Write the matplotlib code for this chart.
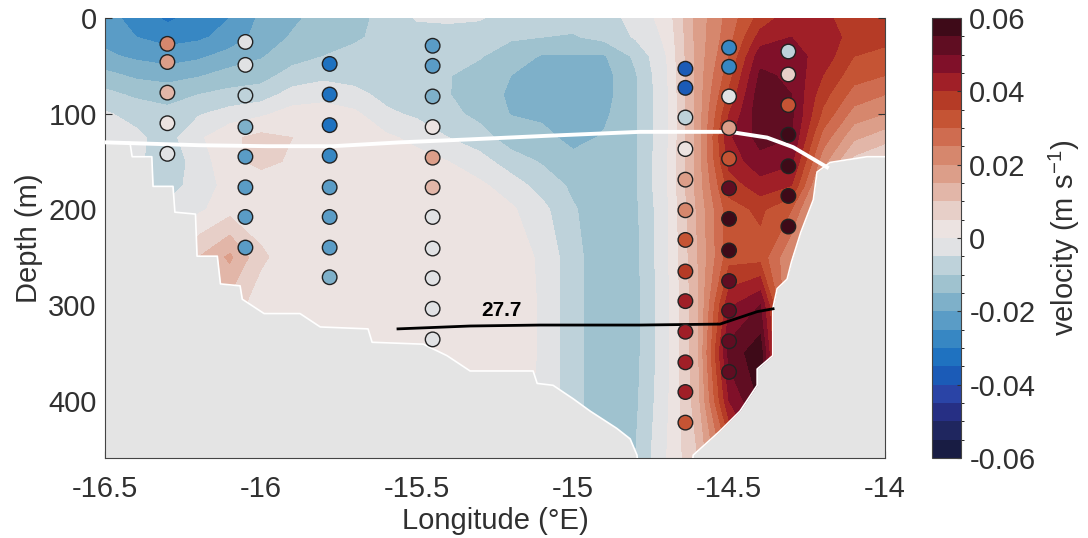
import numpy as np
import matplotlib
matplotlib.use("Agg")
import matplotlib.pyplot as plt
from matplotlib.colors import ListedColormap, BoundaryNorm

plt.rcParams["font.family"] = ["Liberation Sans", "DejaVu Sans"]
plt.rcParams["mathtext.default"] = "regular"
plt.rcParams["axes.unicode_minus"] = False

# gridded section (rows = depth, columns = longitude), m/s
lon = [-16.5, -16.4, -16.3, -16.2, -16.1, -16.0, -15.9, -15.8, -15.7, -15.6, -15.5, -15.4, -15.3,
       -15.2, -15.1, -15.0, -14.9, -14.8, -14.7, -14.6, -14.5, -14.4, -14.3, -14.2, -14.1, -14.0]
depth = [0, 20, 40, 60, 80, 100, 125, 150, 175, 200, 250, 300, 350, 400, 460]
vel = [
    [-0.023, -0.027, -0.031, -0.028, -0.025, -0.019, -0.016, -0.013, -0.011, -0.009, -0.0045, -0.004, -0.0045,
     -0.0075, -0.008, -0.008, -0.0075, -0.003, 0.002, 0.017, 0.027, 0.037, 0.043, 0.041, 0.038, 0.037],
    [-0.0215, -0.025, -0.027, -0.026, -0.023, -0.018, -0.0145, -0.012, -0.0105, -0.009, -0.0075, -0.0075, -0.008,
     -0.0095, -0.01, -0.0105, -0.0085, -0.0045, 0.001, 0.017, 0.028, 0.042, 0.045, 0.043, 0.038, 0.037],
    [-0.019, -0.021, -0.0225, -0.021, -0.018, -0.0155, -0.012, -0.01, -0.009, -0.0085, -0.0085, -0.0088, -0.0097,
     -0.012, -0.0155, -0.0155, -0.0155, -0.009, 0.0, 0.017, 0.03, 0.048, 0.047, 0.043, 0.035, 0.033],
    [-0.0135, -0.016, -0.017, -0.0155, -0.013, -0.012, -0.008, -0.0065, -0.007, -0.0075, -0.0088, -0.0098, -0.0115,
     -0.015, -0.017, -0.018, -0.017, -0.0105, -0.0005, 0.017, 0.033, 0.051, 0.049, 0.04, 0.032, 0.03],
    [-0.0085, -0.011, -0.012, -0.01, -0.0085, -0.0075, -0.003, -0.0015, -0.0035, -0.0065, -0.008, -0.0098, -0.0125,
     -0.0158, -0.0175, -0.0185, -0.017, -0.0105, -0.001, 0.017, 0.036, 0.053, 0.05, 0.037, 0.028, 0.025],
    [-0.0045, -0.0065, -0.0085, -0.0055, -0.003, -0.001, 0.002, 0.002, 0.001, -0.004, -0.006, -0.0085, -0.0115,
     -0.0152, -0.016, -0.018, -0.016, -0.0105, -0.001, 0.017, 0.04, 0.0535, 0.051, 0.034, 0.023, 0.02],
    [-0.003, -0.004, -0.007, -0.001, 0.004, 0.0065, 0.005, 0.002, 0.002, 0.001, -0.0015, -0.005, -0.0078,
     -0.0125, -0.0135, -0.0165, -0.0145, -0.0105, -0.001, 0.017, 0.044, 0.052, 0.05, 0.028, 0.016, 0.012],
    [-0.002, -0.004, -0.008, -0.003, 0.004, 0.006, 0.0045, 0.002, 0.002, 0.002, 0.002, 0.0, -0.003,
     -0.0075, -0.0105, -0.0135, -0.0135, -0.0105, -0.0005, 0.017, 0.042, 0.048, 0.046, 0.022, 0.008, 0.004],
    [-0.002, -0.004, -0.007, -0.003, 0.002, 0.003, 0.002, 0.002, 0.002, 0.002, 0.002, 0.002, 0.001,
     -0.0025, -0.007, -0.011, -0.013, -0.0105, -0.0005, 0.017, 0.037, 0.043, 0.04, 0.016, 0.006, 0.003],
    [-0.002, -0.003, -0.004, -0.001, 0.003, 0.002, 0.002, 0.002, 0.002, 0.002, 0.002, 0.002, 0.002,
     0.0008, -0.0035, -0.0095, -0.013, -0.011, -0.001, 0.016, 0.033, 0.036, 0.03, 0.012, 0.006, 0.003],
    [-0.002, -0.002, -0.002, 0.01, 0.016, 0.006, 0.002, 0.002, 0.002, 0.002, 0.002, 0.002, 0.002,
     0.0015, -0.0005, -0.0085, -0.013, -0.0115, -0.001, 0.015, 0.033, 0.033, 0.02, 0.01, 0.006, 0.003],
    [-0.002, -0.002, -0.002, 0.006, 0.008, 0.002, 0.002, 0.002, 0.002, 0.002, 0.002, 0.002, 0.002,
     0.0015, -0.0003, -0.0085, -0.013, -0.0115, -0.0015, 0.014, 0.044, 0.05, 0.015, 0.01, 0.006, 0.003],
    [-0.002, -0.002, -0.002, 0.003, 0.003, 0.002, 0.002, 0.002, 0.002, 0.003, 0.002, 0.002, 0.002,
     0.0015, -0.0003, -0.0085, -0.013, -0.0115, -0.0015, 0.014, 0.052, 0.058, 0.012, 0.01, 0.006, 0.003],
    [-0.002, -0.002, -0.002, 0.002, 0.002, 0.002, 0.002, 0.002, 0.002, 0.002, 0.002, 0.002, 0.002,
     0.0012, -0.0005, -0.0085, -0.013, -0.011, -0.001, 0.013, 0.045, 0.056, 0.01, 0.01, 0.006, 0.003],
    [-0.002, -0.002, -0.002, 0.002, 0.002, 0.002, 0.002, 0.002, 0.002, 0.002, 0.002, 0.002, 0.002,
     0.001, -0.001, -0.008, -0.012, -0.01, 0.0, 0.01, 0.03, 0.045, 0.01, 0.01, 0.006, 0.003],
]

# seafloor
bathy_lon = [-16.5, -16.42, -16.413, -16.35, -16.346, -16.282, -16.276, -16.21, -16.205, -16.14, -16.13,
             -16.067, -16.06, -15.99, -15.875, -15.81, -15.657, -15.644, -15.48, -15.404, -15.33, -15.128,
             -15.115, -15.064, -15.0, -14.945, -14.86, -14.817, -14.795, -14.79, -14.62, -14.615, -14.53,
             -14.465, -14.41, -14.41, -14.36, -14.36, -14.346, -14.314, -14.3, -14.27, -14.25, -14.23,
             -14.218, -14.176, -14.058, -14.0]
bathy_depth = [130, 130, 145, 145, 176, 176, 203, 205, 249, 249, 278,
               280, 294, 309, 309, 323, 325, 339, 341, 353, 369, 369,
               382, 384, 398, 411, 429, 440, 457, 475, 475, 457, 432,
               411, 384, 367, 353, 304, 283, 273, 255, 224, 207, 190,
               161, 151, 145, 145]

# isopycnals
iso_upper_lon = [-16.5, -16.196, -15.98, -15.77, -15.555, -15.34, -15.074, -14.785, -14.497, -14.378,
                 -14.295, -14.186]
iso_upper_depth = [130, 133, 134, 134, 130, 127, 123, 119, 119, 125, 135, 156]
iso_277_lon = [-15.561, -15.33, -15.106, -14.785, -14.529, -14.465, -14.41, -14.359]
iso_277_depth = [325, 322, 321, 321, 320, 313, 307, 304]

# station observations
sta_lon = [-16.3, -16.05, -15.78, -15.45, -14.64, -14.5, -14.31]
sta_depth = [
    [27, 46, 78, 110, 142],
    [25, 49, 81, 114, 145, 177, 208, 240],
    [48, 80, 112, 144, 177, 208, 240, 271],
    [29, 50, 82, 114, 146, 177, 208, 241, 272, 304, 336],
    [53, 73, 104, 137, 169, 201, 232, 265, 296, 328, 360, 391, 423],
    [31, 51, 82, 115, 147, 178, 210, 243, 275, 306, 338, 370],
    [35, 59, 91, 122, 155, 186, 218],
]
sta_vel = [
    [0.022, 0.017, 0.012, 0.004, -0.002],
    [-0.002, -0.002, -0.006, -0.019, -0.023, -0.023, -0.023, -0.021],
    [-0.033, -0.033, -0.033, -0.027, -0.024, -0.024, -0.022, -0.018],
    [-0.023, -0.023, -0.019, 0.003, 0.018, 0.012, -0.002, -0.002, -0.002, -0.002, -0.002],
    [-0.037, -0.037, -0.008, 0.005, 0.018, 0.022, 0.03, 0.036, 0.043, 0.043, 0.043, 0.043, 0.032],
    [-0.025, -0.025, -0.001, 0.015, 0.032, 0.055, 0.057, 0.057, 0.055, 0.055, 0.055, 0.055],
    [-0.006, 0.008, 0.031, 0.057, 0.057, 0.057, 0.057],
]

cb_colors = ['#181c43', '#1f265f', '#262f84', '#2a44a6', '#1b5bb7', '#1f72c0', '#3787c3', '#5a9cc6',
             '#7eb0c9', '#9fc2cf', '#bed2da', '#e1e2e4', '#ece3e1', '#e7cfc8', '#e2b6a8', '#dc9e89',
             '#d6876d', '#cf6c50', '#c55434', '#b53b26', '#a01f27', '#801029', '#600d22', '#3e0a18']
levels = np.linspace(-0.06, 0.06, 25)
cmap = ListedColormap(cb_colors)
norm = BoundaryNorm(levels, cmap.N)

txt = "#303030"
fs = 21

fig = plt.figure(figsize=(10.88, 5.38), dpi=100)
ax = fig.add_axes([0.0965, 0.1487, 0.717, 0.8178])
cax = fig.add_axes([0.8566, 0.1487, 0.0267, 0.8178])

cf = ax.contourf(lon, depth, np.array(vel), levels=levels, cmap=cmap, norm=norm)

# seafloor mask
ax.fill_between(bathy_lon, bathy_depth, 600, color="#e4e4e4", lw=0, zorder=2)
ax.plot(bathy_lon, bathy_depth, color="white", lw=1.2, zorder=3)

ax.plot(iso_upper_lon, iso_upper_depth, color="white", lw=2.8, zorder=4)
ax.plot(iso_277_lon, iso_277_depth, color="black", lw=2, zorder=4)
ax.text(-15.23, 306, "27.7", fontweight="bold", fontsize=15, ha="center", va="center", zorder=5)

for x0, dd, vv in zip(sta_lon, sta_depth, sta_vel):
    ax.scatter([x0] * len(dd), dd, c=vv, cmap=cmap, norm=norm, s=110,
               edgecolors="#222222", linewidths=1.0, zorder=6)

ax.set_xlim(-16.5, -14)
ax.set_ylim(460, 0)
ax.set_xticks([-16.5, -16, -15.5, -15, -14.5, -14])
ax.set_xticklabels(["-16.5", "-16", "-15.5", "-15", "-14.5", "-14"])
ax.set_yticks([0, 100, 200, 300, 400])
ax.tick_params(direction="in", length=5, width=0.8, labelsize=fs, color="#333333",
               labelcolor=txt, right=True, top=False)
ax.tick_params(axis="x", pad=12)
ax.tick_params(axis="y", pad=6)
for s in ["left", "bottom", "right"]:
    ax.spines[s].set_color("#444444")
    ax.spines[s].set_linewidth(0.8)
ax.spines["top"].set_visible(False)
ax.set_xlabel("Longitude (°E)", fontsize=fs, color=txt, labelpad=3)
ax.set_ylabel("Depth (m)", fontsize=fs, color=txt, labelpad=4)

cb = fig.colorbar(cf, cax=cax, ticks=[-0.06, -0.04, -0.02, 0, 0.02, 0.04, 0.06])
cb.ax.set_yticklabels(["-0.06", "-0.04", "-0.02", "0", "0.02", "0.04", "0.06"])
cb.ax.tick_params(direction="in", length=3, width=0.8, labelsize=fs, color="#333333",
                  labelcolor=txt, pad=6)
cb.outline.set_linewidth(0.8)
cb.outline.set_edgecolor("#444444")
cb.set_label("velocity (m s$^{-1}$)", fontsize=fs, color=txt, labelpad=8)

fig.savefig("out.png", dpi=100)
